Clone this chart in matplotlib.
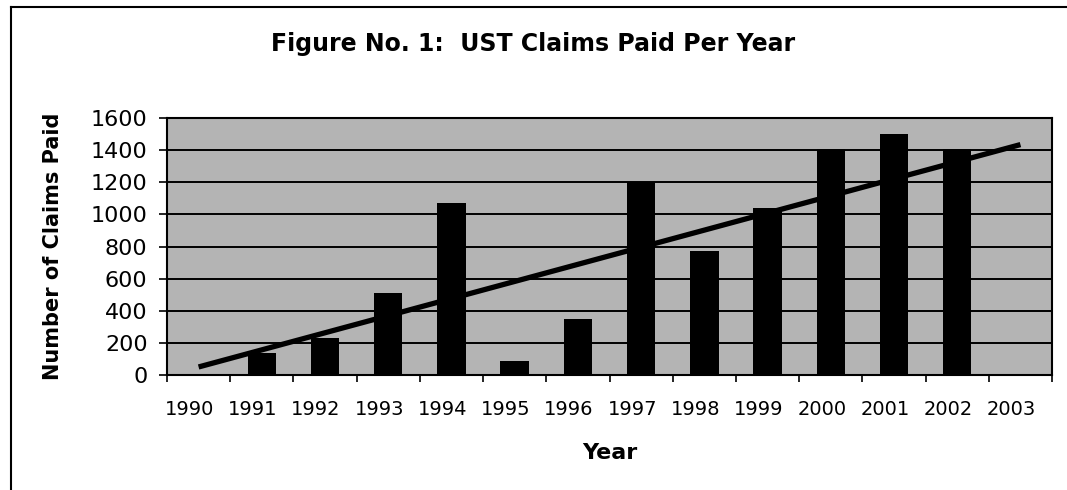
import matplotlib.pyplot as plt
from matplotlib.lines import Line2D
from matplotlib.transforms import ScaledTranslation
import numpy as np

plt.rcParams['font.family'] = ['DejaVu Sans']

# Data
years = ['1990', '1991', '1992', '1993', '1994', '1995', '1996',
         '1997', '1998', '1999', '2000', '2001', '2002', '2003']
claims = [0, 140, 230, 510, 1070, 90, 350, 1200, 770, 1040, 1410, 1500, 1410, 0]
trend_years = ['1990', '2003']
trend_vals = [50, 1435]
yticks = [0, 200, 400, 600, 800, 1000, 1200, 1400, 1600]

fig = plt.figure(figsize=(10.67, 4.9), dpi=100)
ax = fig.add_axes([0.1565, 0.2347, 0.8295, 0.5243])

x = np.arange(len(years))
ax.set_facecolor('#b4b4b4')
ax.bar(x, claims, width=0.45, color='black', zorder=3)

tx = [years.index(y) for y in trend_years]
ax.plot(tx, trend_vals, color='black', lw=3.8, solid_capstyle='butt', zorder=4)

ax.set_xlim(-0.5, len(years) - 0.5)
ax.set_ylim(0, 1600)
ax.set_yticks(yticks)
ax.set_yticklabels([str(v) for v in yticks], fontsize=16)
ax.yaxis.grid(True, color='black', lw=1.4, zorder=1)
ax.set_axisbelow(True)

# year labels at centres, tick marks at category boundaries
ax.set_xticks(x)
ax.set_xticklabels(years, fontsize=14)
ax.tick_params(axis='x', length=0, pad=18)
shift = ScaledTranslation(-9 / 100, 0, fig.dpi_scale_trans)
for lab in ax.get_xticklabels():
    lab.set_transform(lab.get_transform() + shift)
ax.set_xticks(np.arange(len(years) + 1) - 0.5, minor=True)
ax.tick_params(axis='x', which='minor', length=5, width=1.2, direction='out')
ax.tick_params(axis='y', length=6, width=1.2, pad=8)

for s in ax.spines.values():
    s.set_linewidth(1.5)
    s.set_color('black')

ax.set_ylabel('Number of Claims Paid', fontsize=15, fontweight='bold', labelpad=20)
ax.set_xlabel('Year', fontsize=16, fontweight='bold', labelpad=17)

fig.text(0.5, 0.91, 'Figure No. 1:  UST Claims Paid Per Year', fontsize=17,
         fontweight='bold', ha='center', va='center')

# outer frame (left and top edges visible)
fig.add_artist(Line2D([0.0105, 0.0105], [0.0, 0.986], color='black', lw=1.5,
                      transform=fig.transFigure))
fig.add_artist(Line2D([0.0105, 1.0], [0.986, 0.986], color='black', lw=1.5,
                      transform=fig.transFigure))

fig.savefig('out.png', dpi=100)
